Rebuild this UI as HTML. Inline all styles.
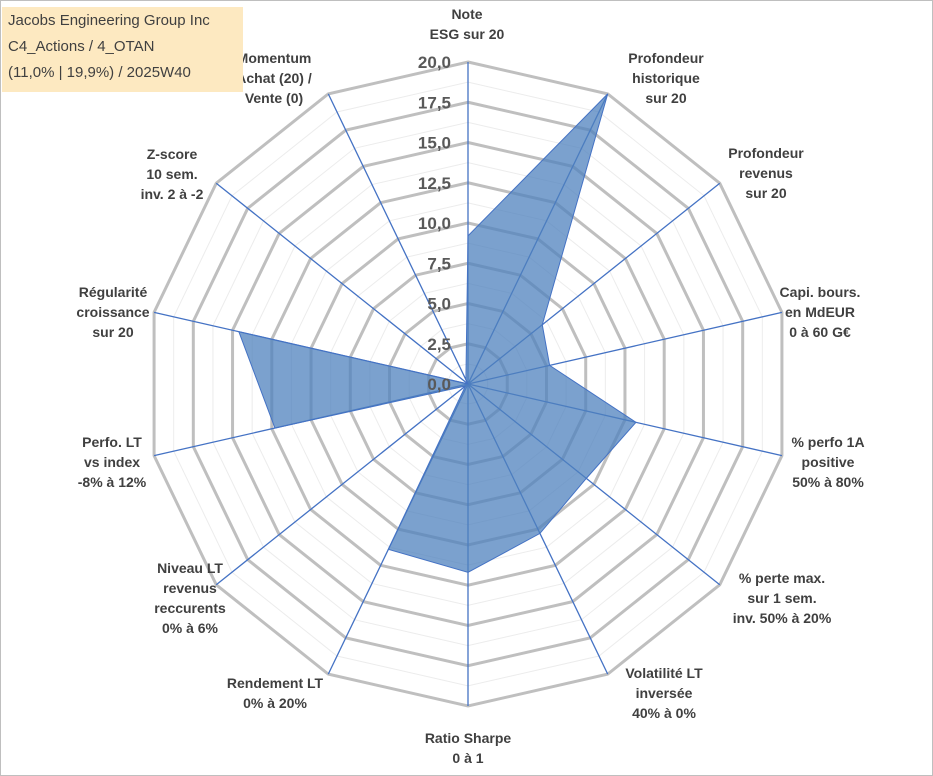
<!DOCTYPE html>
<html><head><meta charset="utf-8"><style>
body{margin:0;background:#fff;}
svg{display:block;font-family:"Liberation Sans",sans-serif;}
</style></head><body>
<svg width="933" height="776">
<rect x="0.5" y="0.5" width="932" height="775" fill="#fff" stroke="#bfbfbf"/>
<g id="grid"></g><g id="axes"></g><g id="series"></g><g id="ticks"></g><g id="labels"></g>
<g>
<rect x="2" y="7" width="241" height="85" fill="#fde9c1"/>
<text x="8" y="25" font-size="15" fill="#404040">Jacobs Engineering Group Inc</text>
<text x="8" y="51" font-size="15" fill="#404040">C4_Actions / 4_OTAN</text>
<text x="8" y="77" font-size="15" fill="#404040">(11,0% | 19,9%) / 2025W40</text>
</g>
</svg>
<script>
const categories=[["Note","ESG sur 20"],["Profondeur","historique","sur 20"],["Profondeur","revenus","sur 20"],["Capi. bours.","en MdEUR","0 à 60 G€"],["% perfo 1A","positive","50% à 80%"],["% perte max.","sur 1 sem.","inv. 50% à 20%"],["Volatilité LT","inversée","40% à 0%"],["Ratio Sharpe","0 à 1"],["Rendement LT","0% à 20%"],["Niveau LT","revenus","reccurents","0% à 6%"],["Perfo. LT","vs index","-8% à 12%"],["Régularité","croissance","sur 20"],["Z-score","10 sem.","inv. 2 à -2"],["Momentum","Achat (20) /","Vente (0)"]];
const values=[9.2,20,5.9,5.2,10.7,9.4,10.3,11.7,11.4,0.2,12.3,14.6,0,0.3];
const tickLabels=["0,0","2,5","5,0","7,5","10,0","12,5","15,0","17,5","20,0"];
const labelCenters=[[467,14],[666,58],[766,153],[820,292],[828,442],[782,578],[664,673],[468,738],[275,683],[190,568],[112,442],[113,292],[172,154],[274,58]];
const NS="http://www.w3.org/2000/svg";
const cx=468,cy=384,R=322,maxV=20,N=categories.length;
function pt(i,v){const a=i*2*Math.PI/N;const r=v/maxV*R;return [cx+r*Math.sin(a),cy-r*Math.cos(a)];}
function mk(tag,attrs,parent){const e=document.createElementNS(NS,tag);for(const k in attrs)e.setAttribute(k,attrs[k]);parent.appendChild(e);return e;}
const grid=document.getElementById('grid');
for(let s=1;s<=16;s++){const v=s*1.25;const pts=[];for(let i=0;i<N;i++)pts.push(pt(i,v).join(','));
const major=s%2===0;
const p=mk('polygon',{points:pts.join(' '),fill:'none',stroke:major?'#bfbfbf':'#ececec','stroke-width':major?3:1},grid);

}
const axes=document.getElementById('axes');
for(let i=0;i<N;i++){const [x,y]=pt(i,maxV);const l=mk('line',{x1:cx,y1:cy,x2:x,y2:y,stroke:'#4472c4','stroke-width':1.3},axes);

}
const ser=document.getElementById('series');
const sp=values.map((v,i)=>pt(i,v).join(',')).join(' ');
const poly=mk('polygon',{points:sp,fill:'rgb(79,129,189)','fill-opacity':0.75,stroke:'#4472c4','stroke-width':1},ser);


const ticks=document.getElementById('ticks');
tickLabels.forEach((t,k)=>{const v=k*2.5;const y=cy-v/maxV*R;const e=mk('text',{x:cx-17,y:y+6,'text-anchor':'end','font-size':17,'font-weight':'bold',fill:'#595959'},ticks);e.textContent=t;

});
const labels=document.getElementById('labels');
categories.forEach((lines,i)=>{const [x,y0]=labelCenters[i];const g=mk('g',{},labels);


lines.forEach((ln,j)=>{const t=mk('text',{x:x,y:y0+5+j*20,'text-anchor':'middle','font-size':14,'font-weight':'bold',fill:'#404040'},g);t.textContent=ln;});});
</script>
</body></html>
